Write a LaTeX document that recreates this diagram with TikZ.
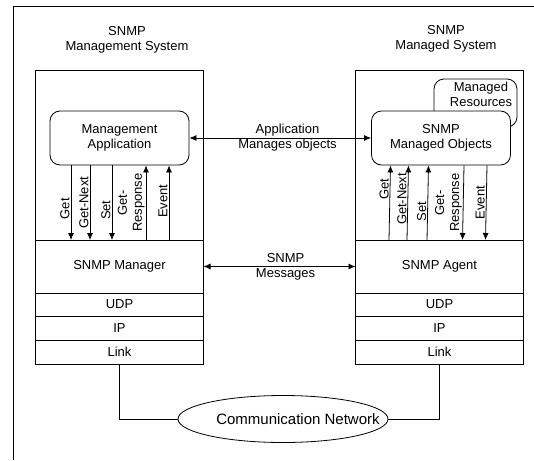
\documentclass[tikz,border=0pt]{standalone}
\usepackage{fontspec}
\setmainfont{Liberation Sans}
\usetikzlibrary{arrows.meta,positioning,shapes.geometric}

\tikzset{
  layer/.style={draw, thick, minimum width=168pt, inner sep=0pt, outer sep=0pt},
  appbox/.style={draw, thick, rounded corners=10pt, minimum width=139pt, minimum height=54pt, align=center, fill=white},
  sig/.style={thick, -{Latex[length=7pt,width=6pt]}},
  both/.style={thick, {Latex[length=7pt,width=6pt]}-{Latex[length=7pt,width=6pt]}},
  lbl/.style={rotate=90, anchor=south, inner sep=1pt, align=center},
}

\begin{document}
\begin{tikzpicture}[x=1pt, y=-1pt, every node/.style={font=\fontsize{13}{15}\selectfont}, line width=1pt]
\useasboundingbox (0,0) rectangle (534,460);

% Frame
\draw[thick] (13,460) -- (13,6) -- (534,6);

% Titles
\node[align=center] (ttlL) at (127,40) {SNMP\\Management System};
\node[align=center] (ttlR) at (446,39) {SNMP\\Managed System};

% Manager stack
\node[layer, minimum height=170pt] (sysL) at (119.5,155) {};
\node[layer, minimum height=53pt, below=0pt of sysL] (mgr) {SNMP Manager};
\node[layer, minimum height=23pt, below=0pt of mgr] (udpL) {UDP};
\node[layer, minimum height=24pt, below=0pt of udpL] (ipL) {IP};
\node[layer, minimum height=24pt, below=0pt of ipL] (lnkL) {Link};

% Agent stack
\node[layer, minimum height=170pt] (sysR) at (439.5,155) {};
\node[layer, minimum height=53pt, below=0pt of sysR] (agt) {SNMP Agent};
\node[layer, minimum height=23pt, below=0pt of agt] (udpR) {UDP};
\node[layer, minimum height=24pt, below=0pt of udpR] (ipR) {IP};
\node[layer, minimum height=24pt, below=0pt of ipR] (lnkR) {Link};

% Application and objects
\node[appbox] (app) at (119.5,138) {Management\\Application};
\node[draw, thick, rounded corners=10pt, minimum width=83pt, minimum height=48pt] (res) at (475.5,103) {};
\node[align=center] (resT) at (481,94) {Managed\\Resources};
\node[appbox] (obj) at (441,138) {SNMP\\Managed Objects};

% Operations, top to stack
\foreach \from/\to/\dx/\p/\txt in {app/mgr/-48.5/0.58/Get, app/mgr/-29.5/0.5/Get-Next, app/mgr/-7.5/0.6/Set,
                                   obj/agt/23/0.5/{Get-\\Response}, obj/agt/46/0.5/Event}
{
     \draw[sig] ([xshift=\dx pt]\from.south) -- node[lbl, pos=\p]{\txt} ([xshift=\dx pt]\to.north);
}

% Operations, stack to top
\foreach \from/\to/\dx/\p/\txt in {mgr/app/26.5/0.5/{Get-\\Response}, mgr/app/49.5/0.52/Event,
                                   agt/obj/-50.5/0.68/Get, agt/obj/-32.5/0.55/Get-Next, agt/obj/-12.5/0.38/Set}
{
     \draw[sig] ([xshift=\dx pt]\from.north) -- node[lbl, pos=\p]{\txt} ([xshift=\dx pt]\to.south);
}

% Exchanges
\draw[both] (app.east) -- node[pos=0.54, align=center] (appmsg) {Application\\Manages objects} (obj.west);
\draw[both] (mgr.east) -- node[pos=0.54, align=center] (snmpmsg) {SNMP\\Messages} (agt.west);

% Network
\node[draw, thick, ellipse, minimum width=210pt, minimum height=47pt, inner sep=0pt] (net) at (283,419) {};
\node[font=\fontsize{15}{17}\selectfont] (netT) at (298,419) {Communication Network};
\draw[thick] (lnkL.south) |- (net.west);
\draw[thick] (lnkR.south) |- (net.east);
\end{tikzpicture}
\end{document}
